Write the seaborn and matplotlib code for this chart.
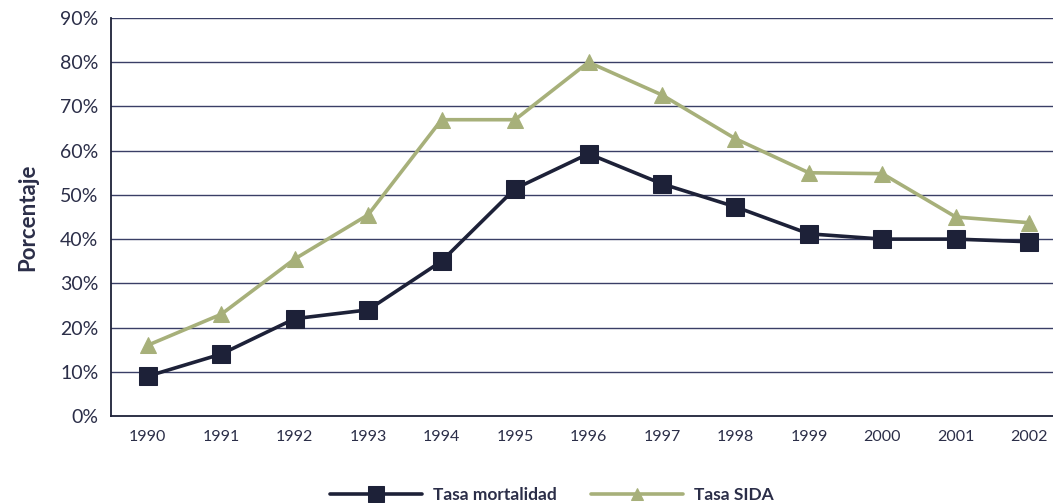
import matplotlib
matplotlib.use("Agg")
import matplotlib.pyplot as plt
import seaborn as sns
import pandas as pd

## data
years = ['1990', '1991', '1992', '1993', '1994', '1995', '1996',
         '1997', '1998', '1999', '2000', '2001', '2002']
tasa_mortalidad = [9.0, 14.0, 22.0, 24.0, 35.0, 51.4, 59.3, 52.5, 47.3, 41.2, 40.0, 40.0, 39.4]
tasa_sida = [16.0, 23.0, 35.5, 45.5, 67.0, 67.0, 80.0, 72.6, 62.7, 55.0, 54.8, 45.0, 43.7]

df = pd.DataFrame({'idx': range(len(years)),
                   'Tasa mortalidad': tasa_mortalidad,
                   'Tasa SIDA': tasa_sida})

navy = '#1d2138'
olive = '#a7b07a'
text_col = '#2b2e48'

sns.set_theme(style='white')
plt.rcParams['font.family'] = ['Lato', 'DejaVu Sans']

fig = plt.figure(figsize=(10.53, 5.03), dpi=100)
ax = fig.add_axes([111 / 1053, 87 / 503, 955 / 1053, 398 / 503])

## gridlines first so lines sit on top
for v in range(10, 91, 10):
    ax.axhline(v, color='#3a3f66', lw=1.0, zorder=1)

sns.lineplot(data=df, x='idx', y='Tasa SIDA', ax=ax, color=olive, lw=2.6,
             marker='^', markersize=11, markeredgecolor=olive,
             label='Tasa SIDA', zorder=3)
sns.lineplot(data=df, x='idx', y='Tasa mortalidad', ax=ax, color=navy, lw=2.6,
             marker='s', markersize=13, markeredgecolor=navy,
             label='Tasa mortalidad', zorder=4)

ax.set_xlim(-0.5, len(years) - 0.5)
ax.set_ylim(0, 90)
ax.set_yticks(range(0, 91, 10))
ax.set_yticklabels([f'{v}%' for v in range(0, 91, 10)], fontsize=14, color=text_col)
ax.set_xticks(range(len(years)))
ax.set_xticklabels(years, fontsize=11.5, color=text_col)
ax.set_xticks([i - 0.5 for i in range(len(years) + 1)], minor=True)
ax.tick_params(axis='x', which='major', length=0, pad=10)
ax.tick_params(axis='x', which='minor', length=8, width=1.2, color=navy, direction='out')
ax.tick_params(axis='y', length=5, width=1.2, color=navy, direction='out', pad=4)
ax.set_xlabel('')
ax.set_ylabel('Porcentaje', fontsize=16, fontweight='bold', color=text_col, labelpad=16)

for s in ['top', 'right']:
    ax.spines[s].set_visible(False)
for s in ['left', 'bottom']:
    ax.spines[s].set_color(navy)
    ax.spines[s].set_linewidth(1.3)

## legend at the bottom, mortalidad first
h, l = ax.get_legend_handles_labels()
ax.get_legend().remove()
leg = fig.legend([h[1], h[0]], [l[1], l[0]], loc='center', ncol=2,
                 bbox_to_anchor=(0.524, 0.015), frameon=False,
                 handlelength=5.3, columnspacing=2.0, handletextpad=0.6,
                 markerscale=0.85,
                 prop={'size': 12.5, 'weight': 'bold'})
for t in leg.get_texts():
    t.set_color(text_col)

fig.savefig('out.png', dpi=100)
